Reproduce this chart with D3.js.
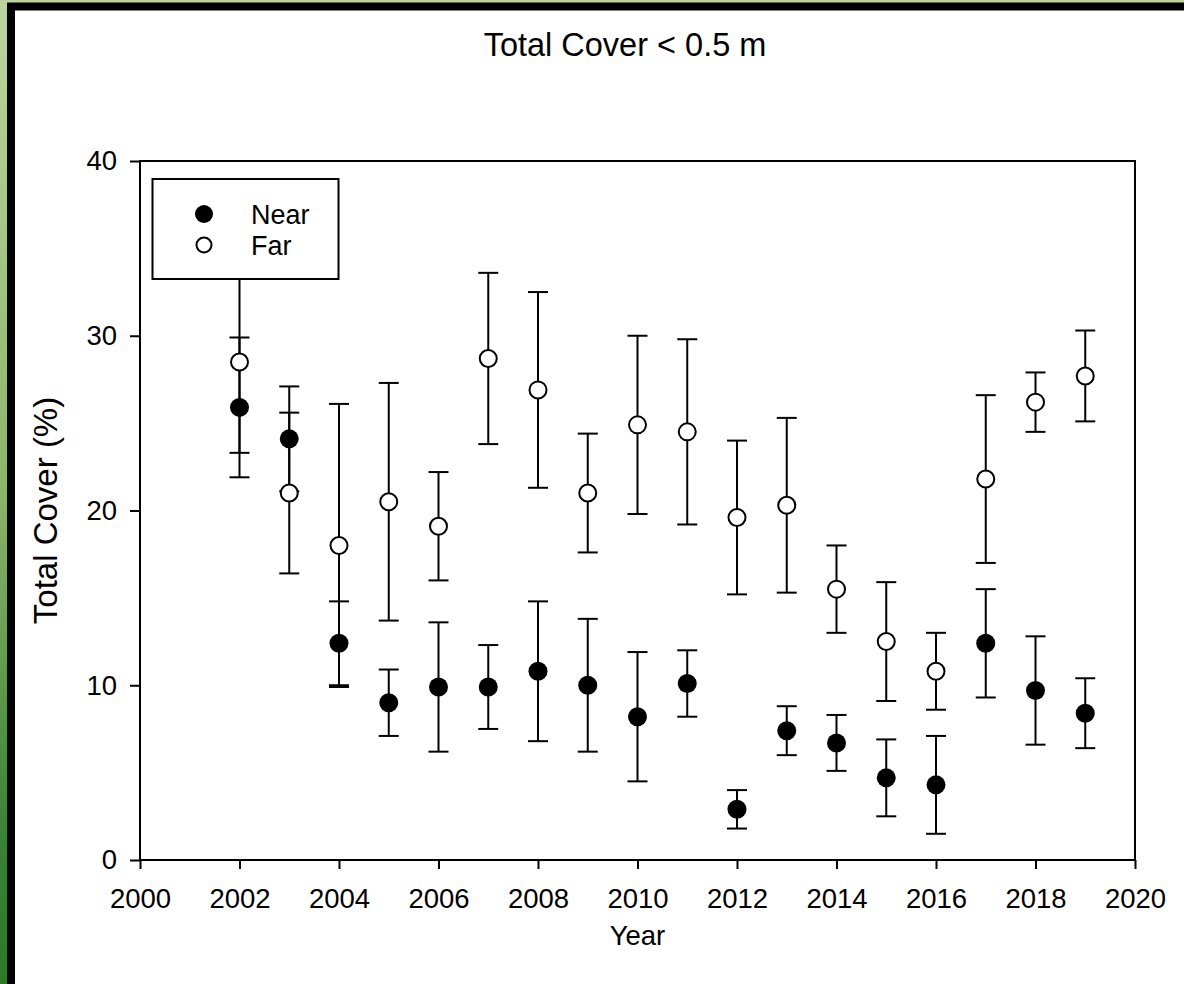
<!DOCTYPE html>
<html>
<head>
<meta charset="utf-8">
<script src="https://cdn.jsdelivr.net/npm/d3@7"></script>
<style>
  body { margin: 0; background: #fff; }
  text { font-family: 'Liberation Sans', Arial, sans-serif; fill: #000; }
</style>
</head>
<body>
<script>
var years = [2002, 2003, 2004, 2005, 2006, 2007, 2008, 2009, 2010, 2011, 2012, 2013, 2014, 2015, 2016, 2017, 2018, 2019]

var nearMean = [25.9, 24.1, 12.4, 9.0, 9.9, 9.9, 10.8, 10.0, 8.2, 10.1, 2.9, 7.4, 6.7, 4.7, 4.3, 12.4, 9.7, 8.4]
var nearErr  = [4.0, 3.0, 2.4, 1.9, 3.7, 2.4, 4.0, 3.8, 3.7, 1.9, 1.1, 1.4, 1.6, 2.2, 2.8, 3.1, 3.1, 2.0]

var farMean  = [28.5, 21.0, 18.0, 20.5, 19.1, 28.7, 26.9, 21.0, 24.9, 24.5, 19.6, 20.3, 15.5, 12.5, 10.8, 21.8, 26.2, 27.7]
var farErr   = [5.2, 4.6, 8.1, 6.8, 3.1, 4.9, 5.6, 3.4, 5.1, 5.3, 4.4, 5.0, 2.5, 3.4, 2.2, 4.8, 1.7, 2.6]

var xTicks = d3.range(2000, 2021, 2)
var yTicks = [0, 10, 20, 30, 40]

var W = 1184, H = 984
var svg = d3.select('body').append('svg').attr('width', W).attr('height', H)

// green page backdrop + black frame
var grad = svg.append('defs').append('linearGradient')
    .attr('id', 'bg').attr('x1', 0).attr('y1', 0).attr('x2', 0).attr('y2', 1)
grad.append('stop').attr('offset', '0%').attr('stop-color', '#bdd4a0')
grad.append('stop').attr('offset', '50%').attr('stop-color', '#8cb46a')
grad.append('stop').attr('offset', '85%').attr('stop-color', '#3a8236')
grad.append('stop').attr('offset', '100%').attr('stop-color', '#2a7a28')
svg.append('rect').attr('width', W).attr('height', H).style('fill', 'url(#bg)')
svg.append('rect').attr('x', 11).attr('y', 6.5).attr('width', W + 20).attr('height', H + 20)
    .style('fill', '#fff').style('stroke', '#000').style('stroke-width', 8)

var x = d3.scaleLinear().domain([2000, 2020]).range([140, 1135])
var y = d3.scaleLinear().domain([0, 40]).range([860, 161])

// plot box
svg.append('rect').attr('x', x(2000)).attr('y', y(40))
    .attr('width', x(2020) - x(2000)).attr('height', y(0) - y(40))
    .style('fill', 'none').style('stroke', '#000').style('stroke-width', 2)

var xAxis = svg.append('g').attr('transform', 'translate(0,' + y(0) + ')')
    .call(d3.axisBottom(x).tickValues(xTicks).tickFormat(d3.format('d')).tickSizeOuter(0).tickSize(9).tickPadding(19))
var yAxis = svg.append('g').attr('transform', 'translate(' + x(2000) + ',0)')
    .call(d3.axisLeft(y).tickValues(yTicks).tickSizeOuter(0).tickSize(10).tickPadding(13))
;[xAxis, yAxis].forEach(function(a){
  a.select('.domain').remove()
  a.selectAll('line').style('stroke', '#000').style('stroke-width', 2)
  a.selectAll('text').style('font-family', "'Liberation Sans', Arial, sans-serif").style('font-size', '27.5px').style('fill', '#000')
})

svg.append('text').attr('x', 625).attr('y', 56).attr('text-anchor', 'middle')
    .style('font-size', '32.5px').text('Total Cover < 0.5 m')
svg.append('text').attr('x', (x(2000) + x(2020)) / 2).attr('y', 945).attr('text-anchor', 'middle')
    .style('font-size', '27.5px').text('Year')
svg.append('text').attr('transform', 'translate(57,' + (y(0) + y(40)) / 2 + ') rotate(-90)')
    .attr('text-anchor', 'middle').style('font-size', '33px').text('Total Cover (%)')

function drawSeries(means, errs, filled){
  var data = years.map(function(yr, i){ return {year: yr, mean: means[i], err: errs[i]} })
  var g = svg.append('g')
  var bars = g.selectAll('g.bar').data(data).enter().append('g')
  bars.append('line')
      .attr('x1', function(d){ return x(d.year) }).attr('x2', function(d){ return x(d.year) })
      .attr('y1', function(d){ return y(d.mean + d.err) }).attr('y2', function(d){ return y(d.mean - d.err) })
  ;[1, -1].forEach(function(s){
    bars.append('line')
        .attr('x1', function(d){ return x(d.year) - 10 }).attr('x2', function(d){ return x(d.year) + 10 })
        .attr('y1', function(d){ return y(d.mean + s * d.err) }).attr('y2', function(d){ return y(d.mean + s * d.err) })
  })
  bars.selectAll('line').style('stroke', '#000').style('stroke-width', 2)
  g.selectAll('circle').data(data).enter().append('circle')
      .attr('cx', function(d){ return x(d.year) })
      .attr('cy', function(d){ return y(d.mean) })
      .attr('r', filled ? 9.5 : 8.5)
      .style('fill', filled ? '#000' : '#fff')
      .style('stroke', '#000').style('stroke-width', filled ? 0 : 2)
}

drawSeries(nearMean, nearErr, true)
drawSeries(farMean, farErr, false)

// legend
var lg = svg.append('g')
lg.append('rect').attr('x', 152.5).attr('y', 179).attr('width', 186).attr('height', 100)
    .style('fill', '#fff').style('stroke', '#000').style('stroke-width', 2)
var items = [{name: 'Near', filled: true}, {name: 'Far', filled: false}]
items.forEach(function(d, i){
  var cy = 214 + i * 31
  lg.append('circle').attr('cx', 204).attr('cy', cy).attr('r', d.filled ? 9 : 7.5)
      .style('fill', d.filled ? '#000' : '#fff').style('stroke', '#000').style('stroke-width', d.filled ? 0 : 2)
  lg.append('text').attr('x', 251).attr('y', cy + 9.5).style('font-size', '27px').text(d.name)
})
</script>
</body>
</html>
